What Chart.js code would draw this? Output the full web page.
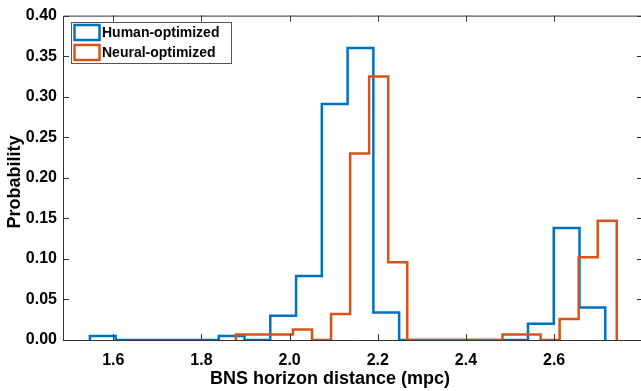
<!DOCTYPE html>
<html>
<head>
<meta charset="utf-8">
<script src="https://cdn.jsdelivr.net/npm/chart.js@4/dist/chart.umd.min.js"></script>
<style>
  html, body { margin: 0; padding: 0; background: #fff; }
  #wrap { width: 641px; height: 391px; }
</style>
</head>
<body>
<div id="wrap"><canvas id="hist"></canvas></div>
<script>
// histogram data (bin start, bin width, probability per bin)
const humanStart = 1.547;
const humanWidth = 0.05845;
const humanProb = [0.005, 0, 0, 0, 0, 0.005, 0, 0.030, 0.079, 0.291,
                   0.360, 0.034, 0, 0, 0, 0, 0, 0.020, 0.138, 0.040];

const neuralStart = 1.878;
const neuralWidth = 0.0432;
const neuralProb = [0.0067, 0.0067, 0.0067, 0.013, 0, 0.032, 0.230, 0.325, 0.096, 0,
                    0, 0, 0, 0, 0.0067, 0.0067, 0, 0.026, 0.102, 0.147];

const xTicks = [1.6, 1.8, 2.0, 2.2, 2.4, 2.6];
const yTicks = [0, 0.05, 0.10, 0.15, 0.20, 0.25, 0.30, 0.35, 0.40];
const labels = ['Human-optimized', 'Neural-optimized'];
const colors = ['#0072BD', '#D95319'];
const xTitle = 'BNS horizon distance (mpc)';
const yTitle = 'Probability';

// turn bins into stairs outline points
function stairs(start, width, probs) {
  const pts = [{ x: start, y: 0 }];
  probs.forEach((p, i) => pts.push({ x: start + i * width, y: p }));
  const end = start + probs.length * width;
  pts.push({ x: end, y: probs[probs.length - 1] });
  pts.push({ x: end, y: 0 });
  return pts;
}

const FONT = 'Liberation Sans, Arial, sans-serif';

// box, inward ticks, axis titles and legend, drawn like the matlab figure
const boxPlugin = {
  id: 'boxPlugin',
  afterDatasetsDraw(chart) {
    const { ctx, chartArea: a, scales } = chart;
    ctx.save();
    ctx.strokeStyle = '#333';
    ctx.lineWidth = 1;
    ctx.beginPath();
    ctx.rect(a.left + 0.5, a.top + 0.5, a.right - a.left + 2, a.bottom - a.top);
    ctx.stroke();
    ctx.beginPath();
    xTicks.forEach(v => {
      const x = Math.round(scales.x.getPixelForValue(v)) + 0.5;
      ctx.moveTo(x, a.bottom); ctx.lineTo(x, a.bottom - 6);
      ctx.moveTo(x, a.top); ctx.lineTo(x, a.top + 6);
    });
    yTicks.forEach(v => {
      const y = Math.round(scales.y.getPixelForValue(v)) + 0.5;
      ctx.moveTo(a.left, y); ctx.lineTo(a.left + 6, y);
      ctx.moveTo(a.right + 2, y); ctx.lineTo(a.right - 4, y);
    });
    ctx.stroke();

    // axis titles
    ctx.fillStyle = '#000';
    ctx.font = 'bold 18px ' + FONT;
    ctx.textAlign = 'center';
    ctx.textBaseline = 'middle';
    ctx.fillText(xTitle, 330, 379);
    ctx.save();
    ctx.translate(15, 182);
    ctx.rotate(-Math.PI / 2);
    ctx.fillText(yTitle, 0, 0);
    ctx.restore();

    // legend
    const lx = 71, ly = 22, lw = 160, lh = 41;
    ctx.fillStyle = '#fff';
    ctx.fillRect(lx, ly, lw, lh);
    ctx.strokeStyle = '#555';
    ctx.lineWidth = 1;
    ctx.strokeRect(lx + 0.5, ly + 0.5, lw, lh);
    ctx.font = 'bold 14px ' + FONT;
    ctx.textAlign = 'left';
    labels.forEach((t, i) => {
      const cy = ly + 10 + i * 20;
      ctx.strokeStyle = colors[i];
      ctx.lineWidth = 2.5;
      ctx.strokeRect(lx + 3.5, cy - 7, 25, 15);
      ctx.fillStyle = '#000';
      ctx.fillText(t, lx + 31, cy + 1);
    });
    ctx.restore();
  }
};

new Chart(document.getElementById('hist').getContext('2d'), {
  type: 'line',
  data: {
    datasets: [
      {
        label: labels[0],
        data: stairs(humanStart, humanWidth, humanProb),
        borderColor: colors[0],
        borderWidth: 2.5,
        stepped: 'before',
        pointRadius: 0,
        fill: false,
        order: 2
      },
      {
        label: labels[1],
        data: stairs(neuralStart, neuralWidth, neuralProb),
        borderColor: colors[1],
        borderWidth: 2.5,
        stepped: 'before',
        pointRadius: 0,
        fill: false,
        order: 1
      }
    ]
  },
  plugins: [boxPlugin],
  options: {
    responsive: true,
    maintainAspectRatio: false,
    animation: false,
    layout: { padding: { top: 15, right: 0, left: 0, bottom: 0 } },
    plugins: { legend: { display: false }, tooltip: { enabled: false } },
    scales: {
      x: {
        type: 'linear',
        min: 1.486,
        max: 2.797,
        afterFit: s => { s.height = 51; },
        afterBuildTicks: s => { s.ticks = xTicks.map(v => ({ value: v })); },
        grid: { display: false, drawTicks: false },
        border: { display: false },
        ticks: {
          padding: 11,
          color: '#000',
          font: { family: FONT, size: 16, weight: 'bold' },
          callback: v => v.toFixed(1)
        }
      },
      y: {
        min: 0,
        max: 0.4,
        afterFit: s => { s.width = 63; },
        afterBuildTicks: s => { s.ticks = yTicks.map(v => ({ value: v })); },
        grid: { display: false, drawTicks: false },
        border: { display: false },
        ticks: {
          padding: 6,
          color: '#000',
          font: { family: FONT, size: 16, weight: 'bold' },
          callback: v => v.toFixed(2)
        }
      }
    }
  }
});
</script>
</body>
</html>
